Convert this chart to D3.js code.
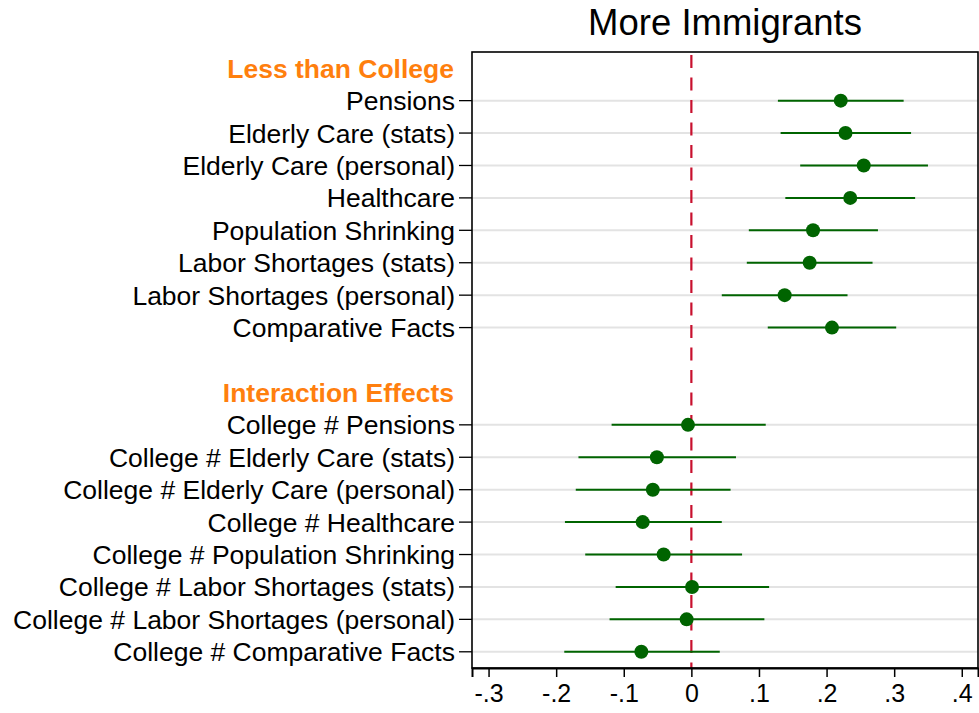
<!DOCTYPE html>
<html>
<head>
<meta charset="utf-8">
<script src="https://cdn.jsdelivr.net/npm/d3@7"></script>
<style>
  html, body { margin: 0; padding: 0; background: #fff; }
  svg { display: block; font-family: Arial, "Liberation Sans", Helvetica, sans-serif; }
</style>
</head>
<body>
<svg id="chart" width="979" height="713"></svg>
<script>
// Coefficient plot: effect of each treatment on support for more immigrants
const groupLabels = ["Less than College", "Interaction Effects"];

const mainLabels = [
  "Pensions",
  "Elderly Care (stats)",
  "Elderly Care (personal)",
  "Healthcare",
  "Population Shrinking",
  "Labor Shortages (stats)",
  "Labor Shortages (personal)",
  "Comparative Facts"
];
const mainEstimate = [0.221, 0.228, 0.255, 0.235, 0.180, 0.175, 0.138, 0.208];
const mainLower    = [0.128, 0.132, 0.161, 0.139, 0.085, 0.082, 0.045, 0.113];
const mainUpper    = [0.314, 0.325, 0.350, 0.331, 0.276, 0.268, 0.231, 0.303];

const interLabels = [
  "College # Pensions",
  "College # Elderly Care (stats)",
  "College # Elderly Care (personal)",
  "College # Healthcare",
  "College # Population Shrinking",
  "College # Labor Shortages (stats)",
  "College # Labor Shortages (personal)",
  "College # Comparative Facts"
];
const interEstimate = [-0.005, -0.051, -0.057, -0.072, -0.041, 0.001, -0.007, -0.074];
const interLower    = [-0.118, -0.167, -0.171, -0.187, -0.157, -0.112, -0.121, -0.188];
const interUpper    = [ 0.110,  0.066,  0.058,  0.045,  0.075,  0.115,  0.108,  0.042];

const xTicks = [-0.3, -0.2, -0.1, 0, 0.1, 0.2, 0.3, 0.4];
const title = "More Immigrants";

// Build row list: header, 8 main rows, spacer, header, 8 interaction rows
const rows = [];
rows.push({ type: "header", label: groupLabels[0] });
mainLabels.forEach((l, i) => rows.push({ type: "coef", label: l, est: mainEstimate[i], lo: mainLower[i], hi: mainUpper[i] }));
rows.push({ type: "blank", label: "" });
rows.push({ type: "header", label: groupLabels[1] });
interLabels.forEach((l, i) => rows.push({ type: "coef", label: l, est: interEstimate[i], lo: interLower[i], hi: interUpper[i] }));
rows.forEach((r, i) => r.idx = i);

const svg = d3.select("#chart");
const plot = { left: 472, right: 978, top: 52, bottom: 668 };

const x = d3.scaleLinear().domain([-0.3245, 0.4240]).range([plot.left, plot.right]);
const y = d3.scaleLinear().domain([-0.5, rows.length - 0.5]).range([plot.top, plot.bottom]);

const green = "#006400";
const coefRows = rows.filter(r => r.type === "coef");

// Horizontal guide lines at each coefficient row
svg.append("g").selectAll("line").data(coefRows).join("line")
  .attr("x1", plot.left).attr("x2", plot.right)
  .attr("y1", d => y(d.idx)).attr("y2", d => y(d.idx))
  .attr("stroke", "#e3e3e3").attr("stroke-width", 2);

// Zero reference line
svg.append("line")
  .attr("x1", x(0)).attr("x2", x(0))
  .attr("y1", plot.top).attr("y2", plot.bottom)
  .attr("stroke", "#c8102e").attr("stroke-width", 2.2)
  .attr("stroke-dasharray", "13,9.5")
  .attr("stroke-dashoffset", -3);

// Confidence intervals
svg.append("g").selectAll("line").data(coefRows).join("line")
  .attr("x1", d => x(d.lo)).attr("x2", d => x(d.hi))
  .attr("y1", d => y(d.idx)).attr("y2", d => y(d.idx))
  .attr("stroke", green).attr("stroke-width", 2);

// Point estimates
svg.append("g").selectAll("circle").data(coefRows).join("circle")
  .attr("cx", d => x(d.est)).attr("cy", d => y(d.idx))
  .attr("r", 7).attr("fill", green);

// Plot frame
svg.append("rect")
  .attr("x", plot.left).attr("y", plot.top)
  .attr("width", plot.right - plot.left).attr("height", plot.bottom - plot.top)
  .attr("fill", "none").attr("stroke", "#000").attr("stroke-width", 1.6);

// X axis
const xAxis = svg.append("g")
  .attr("transform", `translate(0,${plot.bottom})`)
  .call(d3.axisBottom(x).tickValues(xTicks).tickSize(9).tickPadding(7)
    .tickFormat(d => d === 0 ? "0" : d3.format(".1f")(d).replace("0.", ".").replace("\u2212", "-")));
xAxis.select(".domain").attr("stroke", "#000").attr("stroke-width", 2);
xAxis.selectAll(".tick line").attr("stroke", "#000").attr("stroke-width", 1.5);
xAxis.selectAll(".tick text").attr("font-size", 25).attr("fill", "#000")
  .attr("font-family", "Arial, 'Liberation Sans', sans-serif");

// Y axis ticks and labels
const yg = svg.append("g");
yg.selectAll("line").data(coefRows).join("line")
  .attr("x1", plot.left - 13).attr("x2", plot.left)
  .attr("y1", d => y(d.idx)).attr("y2", d => y(d.idx))
  .attr("stroke", "#000").attr("stroke-width", 1.3);
yg.selectAll("text").data(rows.filter(r => r.type !== "blank")).join("text")
  .attr("x", d => d.type === "header" ? 454 : 455)
  .attr("y", d => y(d.idx))
  .attr("dy", "0.36em")
  .attr("text-anchor", "end")
  .attr("font-size", 26.5)
  .attr("font-weight", d => d.type === "header" ? "bold" : "normal")
  .attr("fill", d => d.type === "header" ? "#ff7f0e" : "#000")
  .text(d => d.label);

// Title
svg.append("text")
  .attr("x", (plot.left + plot.right) / 2).attr("y", 35)
  .attr("text-anchor", "middle")
  .attr("font-size", 36.5)
  .attr("fill", "#000")
  .text(title);
</script>
</body>
</html>
